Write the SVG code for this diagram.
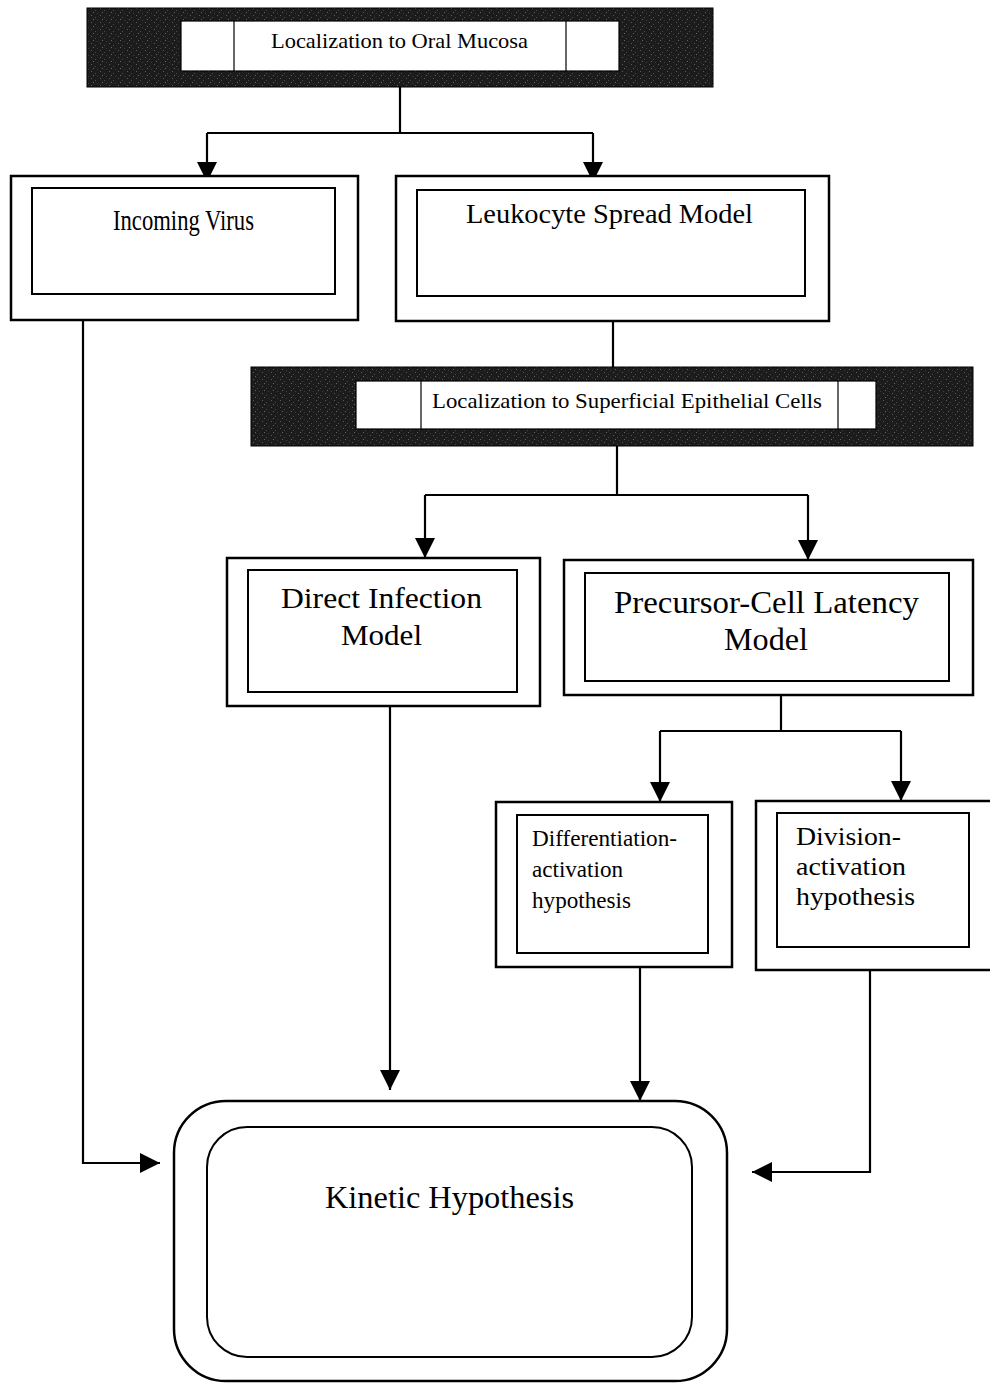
<svg xmlns="http://www.w3.org/2000/svg" width="990" height="1383" viewBox="0 0 990 1383">
<style>
.bx{fill:#fff;stroke:#000;stroke-width:2.5}
.ib{fill:#fff;stroke:#000;stroke-width:2}
.dk{fill:url(#noise);stroke:#000;stroke-width:1}
.wl{fill:#fff;stroke:#000;stroke-width:1.2}
.dv{stroke:#000;stroke-width:1.2}
.t{font-family:"Liberation Serif","Times New Roman",serif;fill:#000}
.c{fill:none;stroke:#000;stroke-width:2.2}
</style>
<defs>
<pattern id="noise" patternUnits="userSpaceOnUse" width="9" height="7">
<rect width="9" height="7" fill="#1c1c1c"/>
<rect x="1" y="1" width="1" height="1" fill="#5a5a5a"/>
<rect x="5" y="3" width="1" height="1" fill="#4a4a4a"/>
<rect x="3" y="5" width="1" height="1" fill="#666"/>
<rect x="7" y="6" width="1" height="1" fill="#3c3c3c"/>
</pattern>
<marker id="ah" markerUnits="userSpaceOnUse" markerWidth="22" markerHeight="22" refX="20" refY="10" orient="auto">
<polygon points="0,0 20,10 0,20" fill="#000"/>
</marker>
</defs>
<rect width="990" height="1383" fill="#fff"/>
<g id="connectors">
<path class="c" d="M400,87 V133 M207,133 H593"/>
<path class="c" d="M207,133 V182" marker-end="url(#ah)"/>
<path class="c" d="M593,133 V182" marker-end="url(#ah)"/>
<path class="c" d="M613,321 V368"/>
<path class="c" d="M617,446 V495 M425,495 H808"/>
<path class="c" d="M425,495 V558" marker-end="url(#ah)"/>
<path class="c" d="M808,495 V560" marker-end="url(#ah)"/>
<path class="c" d="M781,695 V731 M660,731 H901"/>
<path class="c" d="M660,731 V802" marker-end="url(#ah)"/>
<path class="c" d="M901,731 V801" marker-end="url(#ah)"/>
<path class="c" d="M390,706 V1090" marker-end="url(#ah)"/>
<path class="c" d="M640,967 V1101" marker-end="url(#ah)"/>
<path class="c" d="M83,320 V1163 H160" marker-end="url(#ah)"/>
<path class="c" d="M870,970 V1172 H752" marker-end="url(#ah)"/>
</g>
<g id="oral-mucosa">
<rect class="dk" x="87" y="8" width="626" height="79"/>
<rect class="wl" x="181" y="21" width="438" height="50"/>
<line class="dv" x1="234" y1="21" x2="234" y2="71"/>
<line class="dv" x1="566" y1="21" x2="566" y2="71"/>
<text class="t" x="271" y="48" font-size="21" textLength="257" lengthAdjust="spacingAndGlyphs">Localization to Oral Mucosa</text>
</g>
<g id="incoming-virus">
<rect class="bx" x="11" y="176" width="347" height="144"/>
<rect class="ib" x="32" y="188" width="303" height="106"/>
<text class="t" x="113" y="230" font-size="30" textLength="141" lengthAdjust="spacingAndGlyphs">Incoming Virus</text>
</g>
<g id="leukocyte">
<rect class="bx" x="396" y="176" width="433" height="145"/>
<rect class="ib" x="417" y="190" width="388" height="106"/>
<text class="t" x="466" y="223" font-size="27" textLength="287" lengthAdjust="spacingAndGlyphs">Leukocyte Spread Model</text>
</g>
<g id="superficial">
<rect class="dk" x="251" y="367" width="722" height="79"/>
<rect class="wl" x="356" y="381" width="520" height="48"/>
<line class="dv" x1="421" y1="381" x2="421" y2="429"/>
<line class="dv" x1="838" y1="381" x2="838" y2="429"/>
<text class="t" x="432" y="408" font-size="22" textLength="390" lengthAdjust="spacingAndGlyphs">Localization to Superficial Epithelial Cells</text>
</g>
<g id="direct-infection">
<rect class="bx" x="227" y="558" width="313" height="148"/>
<rect class="ib" x="248" y="570" width="269" height="122"/>
<text class="t" x="281" y="608" font-size="30" textLength="201" lengthAdjust="spacingAndGlyphs">Direct Infection</text>
<text class="t" x="341" y="645" font-size="30" textLength="81" lengthAdjust="spacingAndGlyphs">Model</text>
</g>
<g id="precursor">
<rect class="bx" x="564" y="560" width="409" height="135"/>
<rect class="ib" x="585" y="573" width="364" height="108"/>
<text class="t" x="614" y="613" font-size="31" textLength="305" lengthAdjust="spacingAndGlyphs">Precursor-Cell Latency</text>
<text class="t" x="724" y="650" font-size="31" textLength="84" lengthAdjust="spacingAndGlyphs">Model</text>
</g>
<g id="differentiation">
<rect class="bx" x="496" y="802" width="236" height="165"/>
<rect class="ib" x="517" y="815" width="191" height="138"/>
<text class="t" x="532" y="846" font-size="23" textLength="145" lengthAdjust="spacingAndGlyphs">Differentiation-</text>
<text class="t" x="532" y="877" font-size="23" textLength="91" lengthAdjust="spacingAndGlyphs">activation</text>
<text class="t" x="532" y="908" font-size="23" textLength="99" lengthAdjust="spacingAndGlyphs">hypothesis</text>
</g>
<g id="division">
<rect class="bx" x="756" y="801" width="240" height="169"/>
<rect class="ib" x="777" y="813" width="192" height="134"/>
<text class="t" x="796" y="845" font-size="25" textLength="105" lengthAdjust="spacingAndGlyphs">Division-</text>
<text class="t" x="796" y="875" font-size="25" textLength="110" lengthAdjust="spacingAndGlyphs">activation</text>
<text class="t" x="796" y="905" font-size="25" textLength="119" lengthAdjust="spacingAndGlyphs">hypothesis</text>
</g>
<g id="kinetic">
<rect class="bx" x="174" y="1101" width="553" height="280" rx="52" ry="52"/>
<rect class="ib" x="207" y="1127" width="485" height="230" rx="40" ry="40"/>
<text class="t" x="325" y="1208" font-size="31" textLength="249" lengthAdjust="spacingAndGlyphs">Kinetic Hypothesis</text>
</g>
</svg>
